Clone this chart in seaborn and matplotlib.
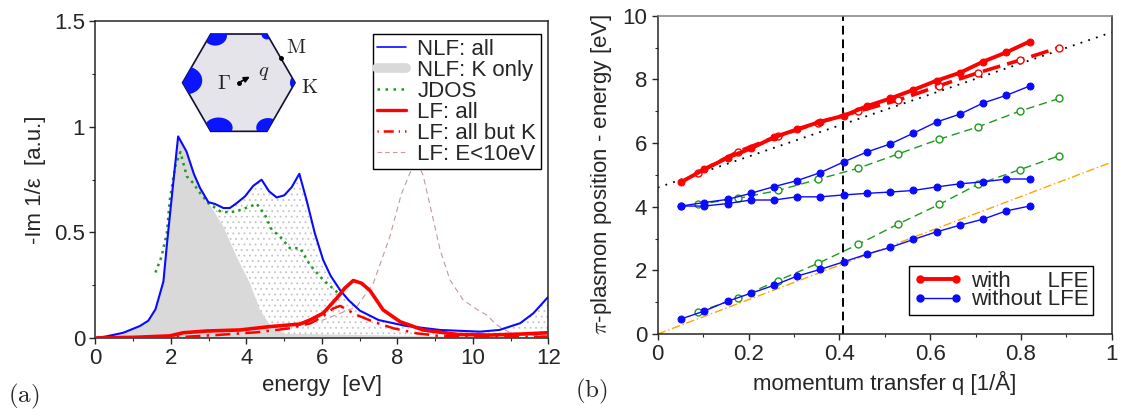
import numpy as np
import matplotlib
matplotlib.use("Agg")
import matplotlib.pyplot as plt
import seaborn as sns
from matplotlib.lines import Line2D
from matplotlib.patches import Polygon, Ellipse
from matplotlib.ticker import MultipleLocator

# ---------------- panel (a): loss spectra ----------------
e_nlf = [0, 0.3, 0.74, 1.18, 1.40, 1.59, 1.80, 1.90, 2.06, 2.19, 2.41, 2.61, 2.77, 2.99, 3.17, 3.39,
         3.56, 3.74, 3.96, 4.18, 4.40, 4.60, 4.80, 5.00, 5.20, 5.40, 5.59, 5.81, 6.03, 6.23, 6.48,
         6.7, 7.0, 7.5, 8.2, 9.13, 10.19, 10.7, 11.25, 11.6, 12.0]
v_nlf = [0, 0.008, 0.025, 0.057, 0.082, 0.136, 0.267, 0.456, 0.733, 0.954, 0.883, 0.775, 0.71, 0.643,
         0.634, 0.615, 0.615, 0.638, 0.67, 0.72, 0.749, 0.694, 0.665, 0.675, 0.714, 0.777, 0.654,
         0.496, 0.37, 0.294, 0.227, 0.18, 0.13, 0.085, 0.058, 0.038, 0.03, 0.038, 0.07, 0.117, 0.196]

e_konly = [0, 0.3, 0.74, 1.18, 1.40, 1.59, 1.80, 1.90, 2.06, 2.19, 2.41, 2.61, 2.77, 2.99, 3.39,
           3.74, 4.09, 4.36, 4.62, 5.0, 12.0]
v_konly = [0, 0.008, 0.025, 0.057, 0.082, 0.136, 0.267, 0.456, 0.733, 0.954, 0.883, 0.775, 0.71,
           0.643, 0.527, 0.385, 0.26, 0.133, 0.062, 0.02, 0.0]

e_jdos = [1.59, 1.75, 1.89, 1.97, 2.11, 2.25, 2.42, 2.59, 2.77, 2.99, 3.30, 3.52, 3.74, 4.09, 4.27,
          4.49, 4.67, 4.89, 5.15, 5.42, 5.68, 6.03, 6.34, 6.5]
v_jdos = [0.31, 0.385, 0.496, 0.654, 0.81, 0.88, 0.765, 0.733, 0.686, 0.638, 0.60, 0.594, 0.60,
          0.622, 0.635, 0.583, 0.512, 0.48, 0.425, 0.425, 0.346, 0.275, 0.227, 0.2]

e_lf = [0, 1.0, 1.97, 2.33, 2.94, 3.83, 4.62, 5.15, 5.42, 5.68, 6.03, 6.39, 6.6, 6.83, 7.05, 7.27,
        7.62, 8.07, 8.68, 9.57, 10.45, 11.33, 12]
v_lf = [0, 0.003, 0.01, 0.025, 0.033, 0.038, 0.054, 0.062, 0.066, 0.085, 0.117, 0.188, 0.235, 0.272,
        0.259, 0.225, 0.133, 0.077, 0.038, 0.017, 0.014, 0.019, 0.025]

e_lf_nok = [0, 2.0, 3.2, 4.27, 5.15, 5.7, 6.0, 6.3, 6.48, 6.92, 7.36, 7.89, 8.51, 9.1, 10, 11, 12]
v_lf_nok = [0, 0.002, 0.014, 0.027, 0.046, 0.07, 0.1, 0.14, 0.152, 0.109, 0.077, 0.046, 0.022, 0.01,
            0.005, 0.004, 0.006]

e_lf10 = [4.0, 5.33, 6.03, 6.48, 6.92, 7.36, 7.80, 8.1, 8.33, 8.5, 8.68, 8.86, 9.13, 9.39, 9.74,
          10.1, 10.36, 10.63, 10.98, 11.42, 12]
v_lf10 = [0.04, 0.062, 0.085, 0.117, 0.148, 0.259, 0.48, 0.68, 0.78, 0.84, 0.77, 0.63, 0.417, 0.275,
          0.18, 0.136, 0.109, 0.062, 0.025, 0.014, 0.01]

labels_a = ["NLF: all", "NLF: K only", "JDOS", "LF: all", "LF: all but K", "LF: E<10eV"]

# Brillouin zone inset: K-point pockets (centre x, centre y, width, height)
pockets = [(-0.95, 0.04, 0.6, 0.5), (-0.42, 0.84, 0.42, 0.36), (0.5, 0.87, 0.2, 0.2),
           (1.0, 0.0, 0.18, 0.24), (-0.36, -0.8, 0.5, 0.36), (0.52, -0.8, 0.42, 0.34)]

# ---------------- panel (b): plasmon dispersion ----------------
q_fine = [0.051, 0.102, 0.154, 0.205, 0.256, 0.307, 0.358, 0.410, 0.461, 0.512, 0.563, 0.614,
          0.666, 0.717, 0.768, 0.819]
q_coarse = [0.088, 0.177, 0.265, 0.353, 0.442, 0.530, 0.620, 0.706, 0.797, 0.884]

with_lfe = [4.77, 5.17, 5.54, 5.83, 6.18, 6.43, 6.67, 6.86, 7.16, 7.40, 7.67, 7.96, 8.21, 8.56,
            8.85, 9.19]
with_lfe_coarse = [5.07, 5.73, 6.22, 6.64, 7.00, 7.35, 7.80, 8.21, 8.60, 9.00]
without_upper = [4.02, 4.13, 4.23, 4.42, 4.63, 4.82, 5.07, 5.41, 5.72, 5.97, 6.31, 6.66, 6.91,
                 7.26, 7.50, 7.79]
without_flat = [4.02, 4.02, 4.10, 4.21, 4.21, 4.31, 4.31, 4.37, 4.42, 4.46, 4.51, 4.62, 4.72,
                4.78, 4.87, 4.87]
without_lower = [0.47, 0.72, 1.03, 1.28, 1.53, 1.82, 2.03, 2.27, 2.51, 2.72, 2.97, 3.21, 3.42,
                 3.61, 3.87, 4.02]
without_upper_coarse = [4.07, 4.26, 4.51, 4.86, 5.21, 5.66, 6.12, 6.51, 7.00, 7.40]
without_lower_coarse = [0.69, 1.13, 1.68, 2.22, 2.82, 3.46, 4.07, 4.71, 5.16, 5.60]

guide_q = [0.0, 1.0]
guide_upper = [4.6, 9.48]
guide_lower = [0.0, 5.4]
q_marker = 0.407

labels_b = ["with      LFE", "without LFE"]

# ---------------- style ----------------
sns.set_style("ticks")
plt.rcParams["font.family"] = ["Liberation Sans", "DejaVu Sans"]
plt.rcParams["mathtext.fontset"] = "cm"
plt.rcParams["hatch.linewidth"] = 0.6

BLUE = "#0a0aff"
RED = "#ff0000"
GREEN = "#1f9a1f"
GRAY = "#d9d9d9"
BROWN = "#c49a9a"
FS = 16

fig = plt.figure(figsize=(11.23, 4.16), dpi=100)
ax_a = fig.add_axes([0.0850, 0.1875, 0.4034, 0.762])
ax_b = fig.add_axes([0.5857, 0.1971, 0.4043, 0.7651])


def lp(ax, x, y, **kw):
    sns.lineplot(x=x, y=y, ax=ax, estimator=None, sort=False, legend=False, **kw)


# panel (a)
ax_a.fill_between(e_nlf, v_nlf, 0, facecolor="none", edgecolor="#c4c4c4", hatch="...",
                  linewidth=0, zorder=1)
ax_a.fill_between(e_konly, v_konly, 0, facecolor=GRAY, edgecolor="none", zorder=2)
lp(ax_a, e_lf10, v_lf10, color=BROWN, lw=0.8, linestyle=(0, (5, 3.5)), zorder=3)
lp(ax_a, e_jdos, v_jdos, color=GREEN, lw=1.8, linestyle=(0, (1, 1.7)), zorder=4)
lp(ax_a, e_nlf, v_nlf, color=BLUE, lw=1.5, zorder=5)
lp(ax_a, e_lf_nok, v_lf_nok, color=RED, lw=1.8, linestyle=(0, (6, 2.5, 1, 2.5)), zorder=6)
lp(ax_a, e_lf, v_lf, color=RED, lw=2.6, zorder=7)

ax_a.set_xlim(0, 12)
ax_a.set_ylim(0, 1.5)
ax_a.xaxis.set_major_locator(MultipleLocator(2))
ax_a.xaxis.set_minor_locator(MultipleLocator(1))
ax_a.yaxis.set_major_locator(MultipleLocator(0.5))
ax_a.yaxis.set_minor_locator(MultipleLocator(0.25))
ax_a.set_yticks([0, 0.5, 1, 1.5], ["0", "0.5", "1", "1.5"])
ax_a.set_xlabel("energy  [eV]", fontsize=FS, labelpad=4)
ax_a.set_ylabel("-Im 1/\u03b5  [a.u.]", fontsize=FS, labelpad=6)

handles_a = [
    Line2D([], [], color=BLUE, lw=1.2),
    Line2D([], [], color=GRAY, lw=7),
    Line2D([], [], color=GREEN, lw=1.8, linestyle=(0, (1, 2.2))),
    Line2D([], [], color=RED, lw=2.4),
    Line2D([], [], color=RED, lw=1.8, linestyle=(0, (0.5, 2, 4, 2))),
    Line2D([], [], color=BROWN, lw=0.8, linestyle=(0, (4, 3))),
]
leg_a = ax_a.legend(handles_a, labels_a, loc="upper right", bbox_to_anchor=(0.983, 0.958),
                    borderaxespad=0, fontsize=16, frameon=True, fancybox=False, framealpha=1,
                    edgecolor="black", handlelength=1.3, handletextpad=0.5, labelspacing=0.0,
                    borderpad=0.2)
leg_a.get_frame().set_linewidth(1.0)
leg_a.set_zorder(10)

# Brillouin zone inset
ax_in = fig.add_axes([0.1414, 0.657, 0.1425, 0.2885])
ax_in.set_xlim(-1.423, 1.423)
ax_in.set_ylim(-1.068, 1.068)
ax_in.axis("off")
ang = np.deg2rad(np.arange(0, 360, 60))
hexagon = Polygon(np.column_stack([np.cos(ang), np.sin(ang)]), closed=True,
                  facecolor="#e4e4ea", edgecolor="#101030", lw=1.2, zorder=1)
ax_in.add_patch(hexagon)
for cx, cy, w, h in pockets:
    blob = Ellipse((cx, cy), w, h, facecolor="#0a14ff", edgecolor="none", zorder=2)
    ax_in.add_patch(blob)
    blob.set_clip_path(hexagon)
ax_in.annotate("", xy=(0.24, 0.13), xytext=(0, 0),
               arrowprops=dict(arrowstyle="-|>", color="black", lw=1.3, mutation_scale=8))
ax_in.plot([0, 0.75], [0, 0.433], "o", color="black", ms=2.5, zorder=4)
ax_in.text(-0.27, -0.01, r"$\Gamma$", fontsize=15, ha="center", va="center")
ax_in.text(0.45, 0.18, r"$q$", fontsize=15, ha="center", va="center")
ax_in.text(1.02, 0.62, r"$\mathrm{M}$", fontsize=15, ha="center", va="center")
ax_in.text(1.26, -0.09, r"$\mathrm{K}$", fontsize=15, ha="center", va="center")

# panel (b)
ax_b.axvline(q_marker, color="black", lw=1.4, linestyle=(0, (4.5, 2.5)), zorder=1)
lp(ax_b, guide_q, guide_upper, color="black", lw=1.3, linestyle=(0, (1, 3.5)), zorder=2)
lp(ax_b, guide_q, guide_lower, color="orange", lw=1.0, linestyle=(0, (6, 2, 1, 2)), zorder=2)
for vals in (without_upper_coarse, without_lower_coarse):
    lp(ax_b, q_coarse, vals, color=GREEN, lw=1.0, linestyle=(0, (6, 3.5)), marker="o", ms=5,
       mfc="white", mec=GREEN, mew=1.0, zorder=3)
for vals in (without_upper, without_flat, without_lower):
    lp(ax_b, q_fine, vals, color=BLUE, lw=1.0, marker="o", ms=5, mec=BLUE, zorder=4)
lp(ax_b, q_coarse, with_lfe_coarse, color=RED, lw=2.6, linestyle=(0, (5, 2)), marker="o", ms=5,
   mfc="white", mec=RED, mew=1.0, zorder=5)
lp(ax_b, q_fine, with_lfe, color=RED, lw=2.8, marker="o", ms=5, mec=RED, zorder=6)

ax_b.set_xlim(0, 1)
ax_b.set_ylim(0, 10)
ax_b.xaxis.set_major_locator(MultipleLocator(0.2))
ax_b.xaxis.set_minor_locator(MultipleLocator(0.1))
ax_b.yaxis.set_major_locator(MultipleLocator(2))
ax_b.yaxis.set_minor_locator(MultipleLocator(1))
ax_b.set_xticks([0, 0.2, 0.4, 0.6, 0.8, 1], ["0", "0.2", "0.4", "0.6", "0.8", "1"])
ax_b.set_xlabel("momentum transfer q [1/\u00c5]", fontsize=FS, labelpad=4)
ax_b.set_ylabel(r"$\pi$-plasmon position - energy [eV]", fontsize=FS, labelpad=6)
ax_b.spines["top"].set_color("#808080")

handles_b = [
    Line2D([], [], color=RED, lw=2.8, marker="o", ms=5),
    Line2D([], [], color=BLUE, lw=1.0, marker="o", ms=5),
]
leg_b = ax_b.legend(handles_b, labels_b, loc="lower right", bbox_to_anchor=(0.959, 0.06),
                    borderaxespad=0, fontsize=FS, frameon=True, fancybox=False, framealpha=1,
                    edgecolor="black", handlelength=2.2, handletextpad=0.4, labelspacing=-0.1,
                    borderpad=0.2, numpoints=2)
leg_b.get_frame().set_linewidth(1.0)

for ax in (ax_a, ax_b):
    for side in ("top", "right", "left", "bottom"):
        ax.spines[side].set_visible(True)
        ax.spines[side].set_linewidth(1.1)
    ax.tick_params(which="major", direction="out", length=4, width=1, labelsize=FS,
                   top=False, right=False)
    ax.tick_params(which="minor", direction="out", length=2.5, width=0.8, top=False, right=False)

fig.text(0.0214, 0.046, r"$\mathrm{(a)}$", fontsize=18, ha="center", va="center")
fig.text(0.5263, 0.06, r"$\mathrm{(b)}$", fontsize=18, ha="center", va="center")

fig.savefig("out.png", dpi=100)
